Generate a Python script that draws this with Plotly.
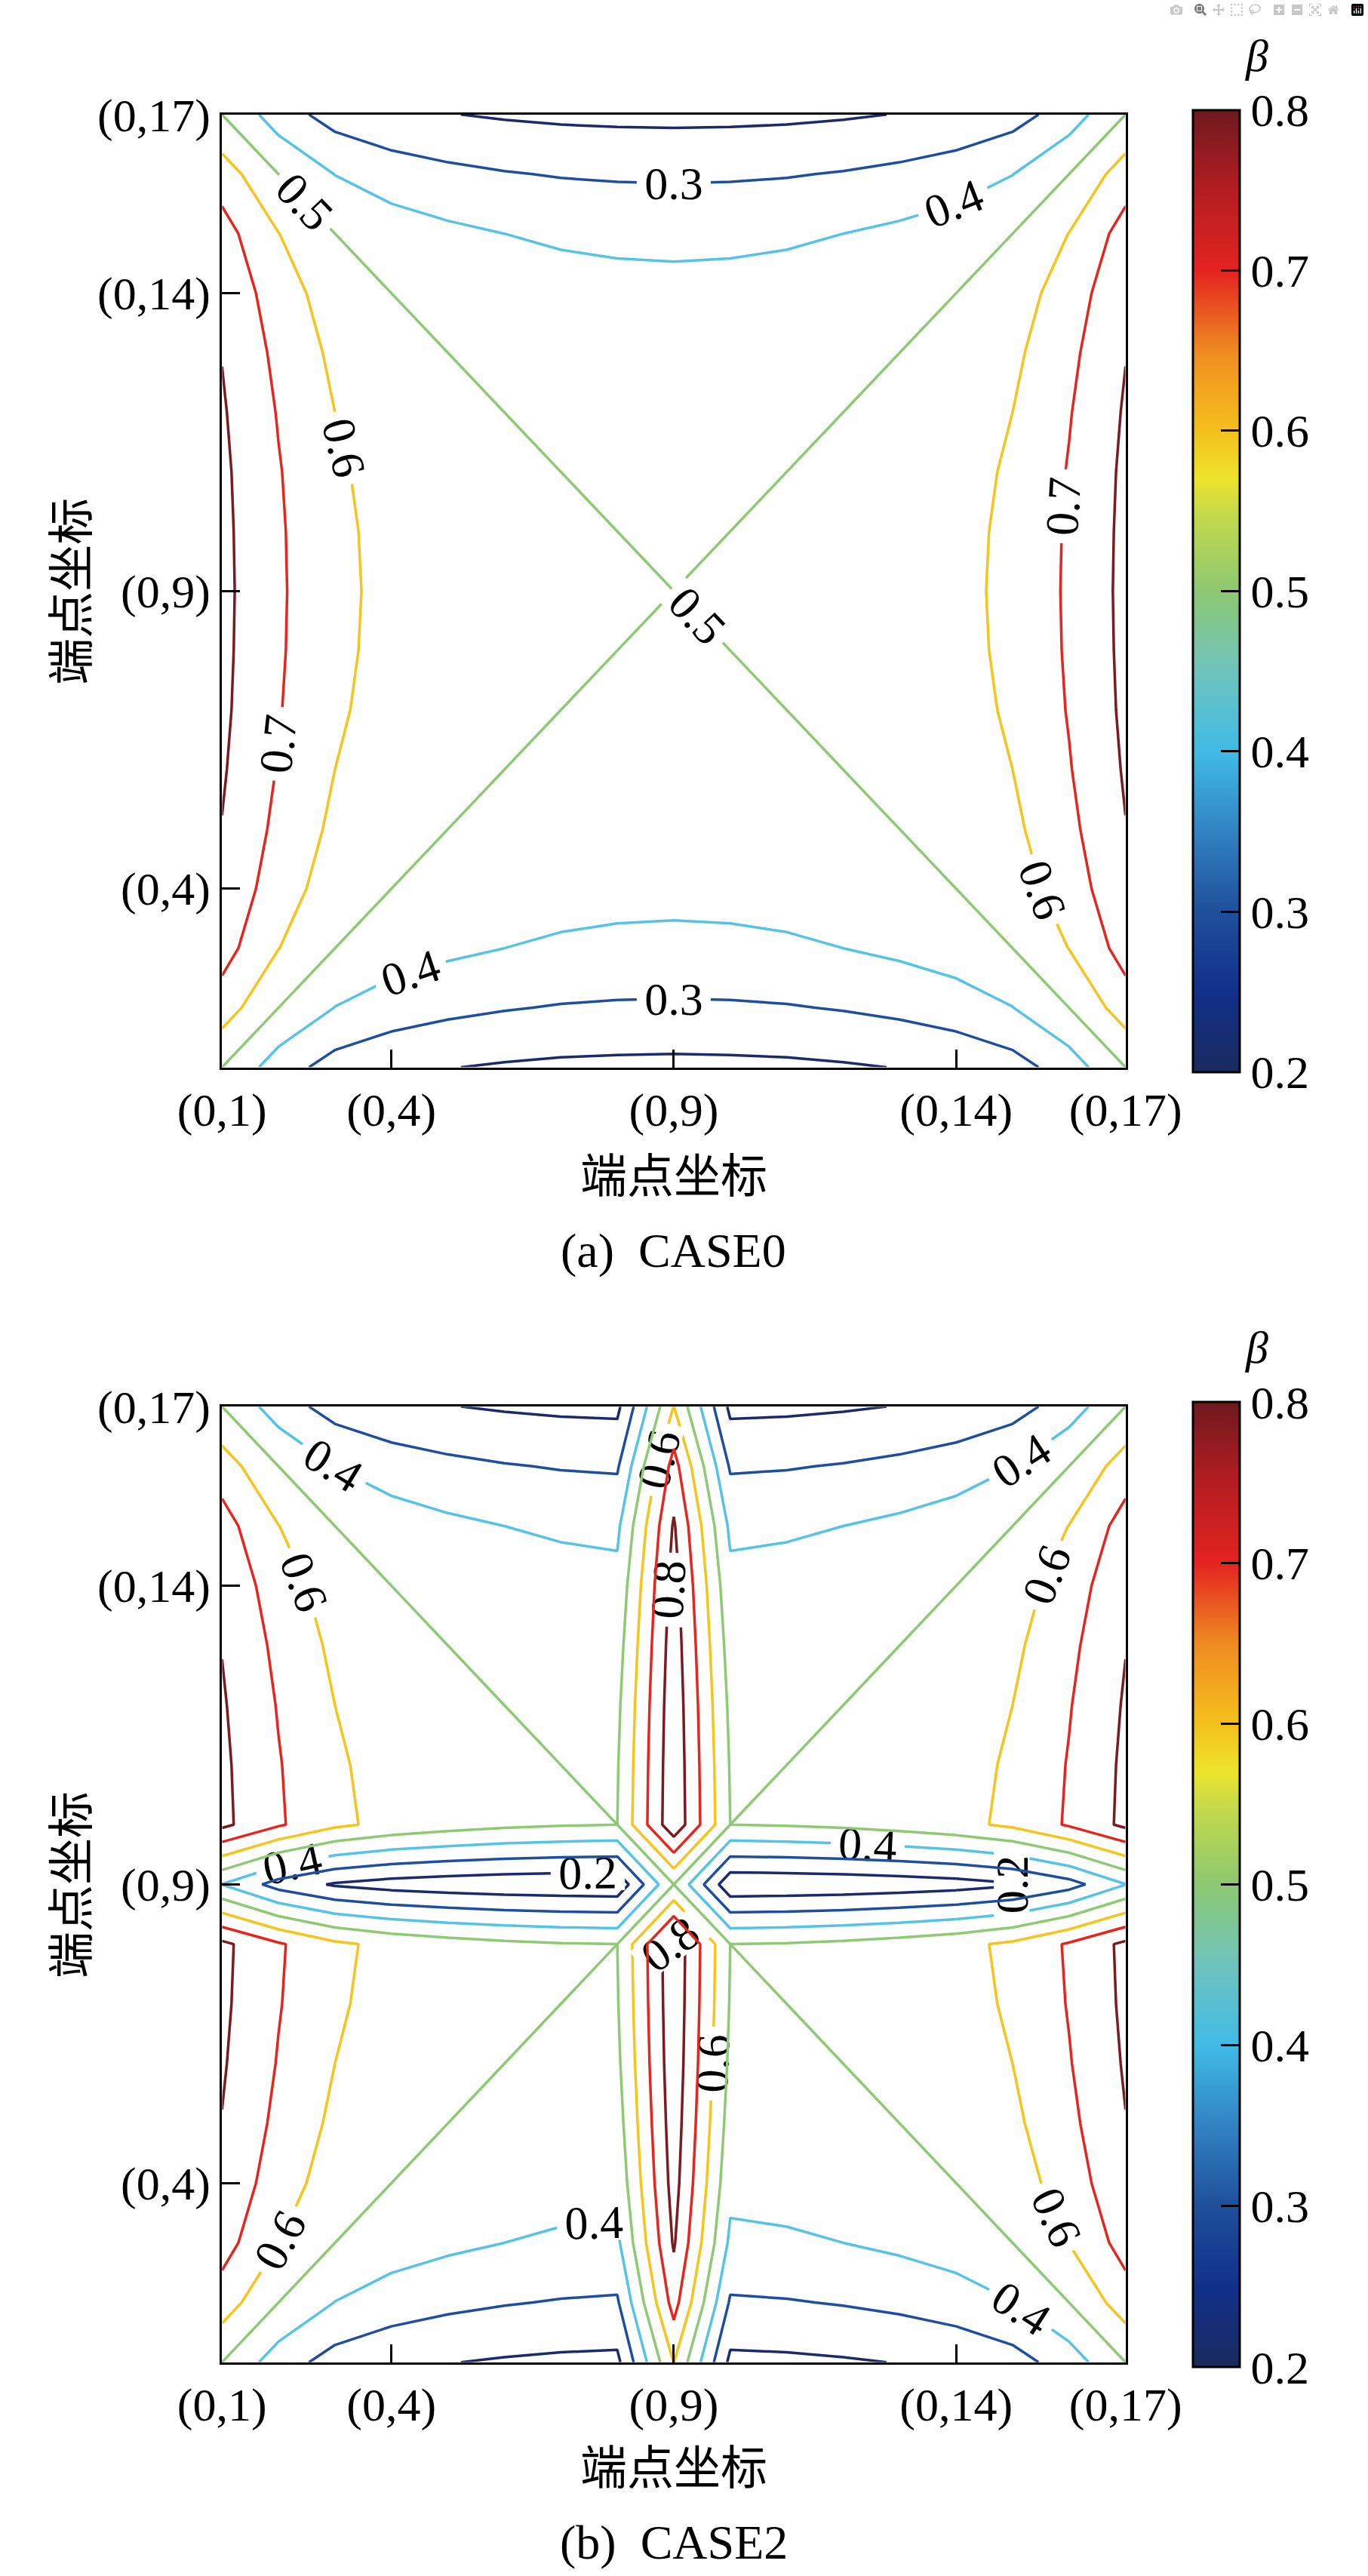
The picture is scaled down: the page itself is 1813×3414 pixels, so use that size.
import plotly.graph_objects as go

# ---------------- data ----------------
endpoints = list(range(1, 18))                      # endpoint index (0,1) ... (0,17)
x_tick_vals = [1, 4, 9, 14, 17]
x_tick_text = ["(0,1)", "(0,4)", "(0,9)", "(0,14)", "(0,17)"]
y_tick_vals = [4, 9, 14, 17]
y_tick_text = ["(0,4)", "(0,9)", "(0,14)", "(0,17)"]
levels = [0.2, 0.3, 0.4, 0.5, 0.6, 0.7, 0.8]
label_step_case0 = 0.1          # every level labelled
label_step_case2 = 0.2          # 0.2, 0.4, 0.6, 0.8 labelled
cbar_vals = [0.2, 0.3, 0.4, 0.5, 0.6, 0.7, 0.8]
cbar_text = ["0.2", "0.3", "0.4", "0.5", "0.6", "0.7", "0.8"]

# beta, tabulated by distance from endpoint 9
# rows: |y-9| = 0..8, columns: |x-9| = 0..8 (the map is mirror-symmetric)
beta_case0 = [
    [0.500, 0.502, 0.510, 0.524, 0.545, 0.574, 0.623, 0.714, 0.825],
    [0.498, 0.500, 0.507, 0.521, 0.543, 0.572, 0.620, 0.712, 0.823],
    [0.490, 0.493, 0.500, 0.514, 0.536, 0.565, 0.613, 0.706, 0.819],
    [0.476, 0.479, 0.486, 0.500, 0.522, 0.551, 0.600, 0.694, 0.810],
    [0.455, 0.457, 0.464, 0.478, 0.500, 0.529, 0.579, 0.676, 0.797],
    [0.426, 0.428, 0.435, 0.449, 0.471, 0.500, 0.550, 0.649, 0.777],
    [0.377, 0.380, 0.387, 0.400, 0.421, 0.450, 0.500, 0.602, 0.740],
    [0.286, 0.288, 0.294, 0.306, 0.324, 0.351, 0.398, 0.500, 0.653],
    [0.175, 0.177, 0.181, 0.190, 0.203, 0.223, 0.260, 0.347, 0.500],
]
beta_case2 = [
    [0.500, 0.124, 0.128, 0.134, 0.145, 0.160, 0.189, 0.260, 0.398],
    [0.876, 0.500, 0.507, 0.521, 0.543, 0.572, 0.620, 0.712, 0.823],
    [0.872, 0.493, 0.500, 0.514, 0.536, 0.565, 0.613, 0.706, 0.819],
    [0.866, 0.479, 0.486, 0.500, 0.522, 0.551, 0.600, 0.694, 0.810],
    [0.855, 0.457, 0.464, 0.478, 0.500, 0.529, 0.579, 0.676, 0.797],
    [0.840, 0.428, 0.435, 0.449, 0.471, 0.500, 0.550, 0.649, 0.777],
    [0.811, 0.380, 0.387, 0.400, 0.421, 0.450, 0.500, 0.602, 0.740],
    [0.740, 0.288, 0.294, 0.306, 0.324, 0.351, 0.398, 0.500, 0.653],
    [0.602, 0.177, 0.181, 0.190, 0.203, 0.223, 0.260, 0.347, 0.500],
]


def expand(q):
    return [[q[abs(j - 9)][abs(i - 9)] for i in endpoints] for j in endpoints]


z0 = expand(beta_case0)
z2 = expand(beta_case2)

# ---------------- style ----------------
W, H = 1813, 3414
SERIF = "Liberation Serif, Times New Roman, serif"
CJK = "Noto Sans CJK SC"
FS = 62

level_colors = ["#1b2a6b", "#1f4e9f", "#55c3e6", "#8ec974", "#f6c41a", "#e6251f", "#7a1b1f"]
LMIN, LMAX = levels[0], levels[-1]
line_scale = [[(lv - LMIN) / (LMAX - LMIN), c] for lv, c in zip(levels, level_colors)]

cscale = [
    [0.0000, "#1b2a5e"],
    [0.0833, "#11308a"],
    [0.1667, "#1f4f9c"],
    [0.2500, "#3282c2"],
    [0.3333, "#40bbe6"],
    [0.4167, "#6fc3bd"],
    [0.5000, "#8dc872"],
    [0.5833, "#c8da48"],
    [0.6167, "#eee42c"],
    [0.6667, "#f5c01c"],
    [0.7500, "#ef8a22"],
    [0.8333, "#e42320"],
    [0.9167, "#b41d22"],
    [1.0000, "#6e1a1e"],
]

panels = [
    dict(top=120, bottom=1395, z=z0, caption="(a)\u00a0\u00a0CASE0", step=label_step_case0),
    dict(top=1849, bottom=3128, z=z2, caption="(b)\u00a0\u00a0CASE2", step=label_step_case2),
]
LEFT, RIGHT = 254, 1547
CB_X = 1643

fig = go.Figure()
annotations = []


def py(p):
    return 1 - p / H


for k, p in enumerate(panels):
    sfx = "" if k == 0 else "2"
    xa, ya = "x" + sfx, "y" + sfx
    # labelled levels in one trace (so plotly keeps labels apart)
    fig.add_trace(go.Contour(
        x=endpoints, y=endpoints, z=p["z"],
        colorscale=line_scale, showscale=False, autocontour=False,
        contours=dict(start=LMIN, end=LMAX, size=p["step"], coloring="lines",
                      showlabels=True,
                      labelfont=dict(size=FS, color="black", family=SERIF),
                      labelformat=".1f"),
        line=dict(width=3.5, smoothing=0),
        xaxis=xa, yaxis=ya, hoverinfo="skip"))
    # unlabelled levels one by one
    labelled = [round(LMIN + i * p["step"], 3)
                for i in range(int(round((LMAX - LMIN) / p["step"])) + 1)]
    for lv, c in zip(levels, level_colors):
        if round(lv, 3) in labelled:
            continue
        fig.add_trace(go.Contour(
            x=endpoints, y=endpoints, z=p["z"],
            colorscale=[[0, c], [1, c]], showscale=False, autocontour=False,
            contours=dict(start=lv, end=lv, size=0.1, coloring="lines", showlabels=False),
            line=dict(width=3.5, smoothing=0),
            xaxis=xa, yaxis=ya, hoverinfo="skip"))
    ymid = (py(p["top"]) + py(p["bottom"])) / 2
    fig.add_trace(go.Scatter(
        x=[None], y=[None], mode="markers", xaxis=xa, yaxis=ya, showlegend=False,
        marker=dict(color=[0.5], colorscale=cscale, cmin=0.2, cmax=0.8, showscale=True,
                    colorbar=dict(
                        thickness=62, thicknessmode="pixels",
                        len=p["bottom"] - p["top"], lenmode="pixels",
                        x=CB_X / W, xanchor="left", xpad=0,
                        y=ymid, yanchor="middle", ypad=0,
                        outlinewidth=3, outlinecolor="black",
                        tickvals=cbar_vals, ticktext=cbar_text,
                        ticks="inside", ticklen=26, tickwidth=3, tickcolor="black",
                        tickfont=dict(size=FS, family=SERIF, color="black"),
                    ))))
    axis_common = dict(range=[1, 17],
                       ticks="inside", ticklen=24, tickwidth=3, tickcolor="black",
                       showline=True, linewidth=3, linecolor="black", mirror=True,
                       showgrid=False, zeroline=False,
                       tickfont=dict(size=FS, family=SERIF, color="black"))
    fig.layout["xaxis" + sfx] = dict(domain=[LEFT / W, RIGHT / W], anchor=ya,
                                     tickvals=x_tick_vals, ticktext=x_tick_text, **axis_common)
    fig.layout["yaxis" + sfx] = dict(domain=[py(p["bottom"]), py(p["top"])], anchor=xa,
                                     tickvals=y_tick_vals, ticktext=y_tick_text, **axis_common)
    xmid = (LEFT + RIGHT) / 2 / W
    off = p["top"] - 120
    base = dict(showarrow=False, xref="paper", yref="paper",
                xanchor="center", yanchor="middle")
    annotations += [
        dict(x=xmid, y=py(1536 + off), text="端点坐标",
             font=dict(size=FS, family=CJK, color="black"), **base),
        dict(x=34 / W, y=ymid, text="端点坐标", textangle=-90,
             font=dict(size=FS, family=CJK, color="black"), **base),
        dict(x=xmid, y=py(1640 + off), text=p["caption"],
             font=dict(size=FS + 2, family=SERIF, color="black"), **base),
        dict(x=1735 / W, y=py(41 + off), text="<i>β</i>",
             font=dict(size=60, family=SERIF, color="black"), **base),
    ]

fig.update_layout(width=W, height=H, autosize=False,
                  margin=dict(l=0, r=0, t=0, b=0),
                  paper_bgcolor="white", plot_bgcolor="white",
                  showlegend=False, annotations=annotations)

fig.write_html("out.html", post_script="document.body.style.margin='0px';")
